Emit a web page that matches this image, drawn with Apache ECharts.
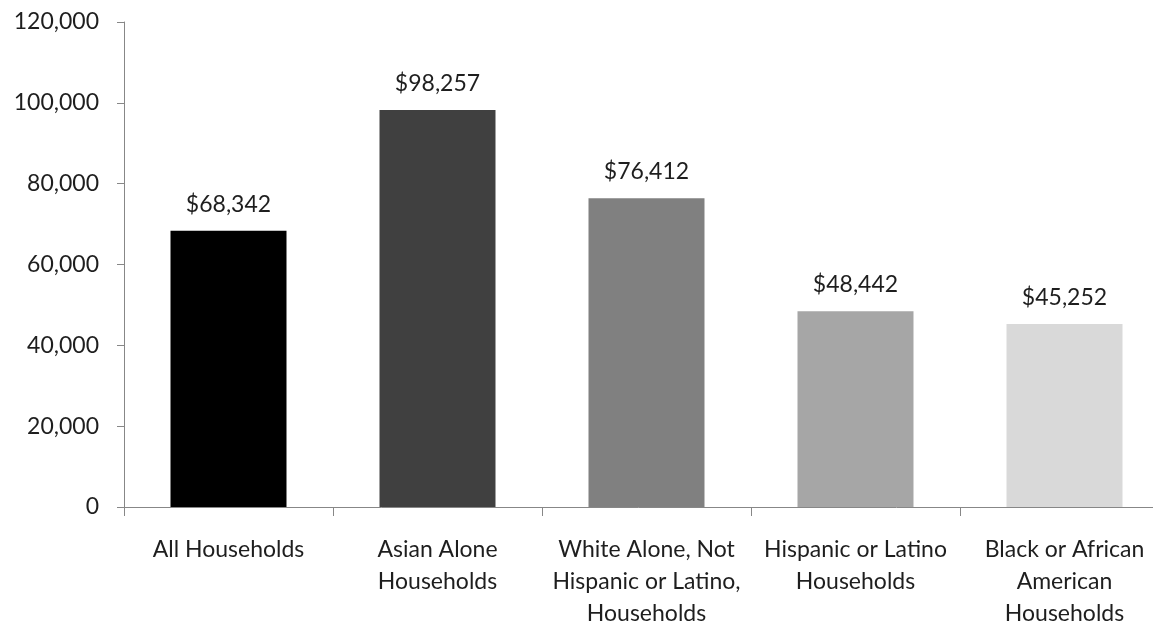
<!DOCTYPE html>
<html>
<head>
<meta charset="utf-8">
<title>Median Household Income by Race and Hispanic Origin</title>
<script src="https://cdn.jsdelivr.net/npm/echarts@6/dist/echarts.min.js"></script>
<style>
  html, body { margin: 0; padding: 0; background: #ffffff; }
  #chart { width: 1153px; height: 628px; }
</style>
</head>
<body>
<div id="chart"></div>
<script>
// Household groups (line breaks are where the axis labels wrap)
var categories = [
  'All Households',
  'Asian Alone\nHouseholds',
  'White Alone, Not\nHispanic or Latino,\nHouseholds',
  'Hispanic or Latino\nHouseholds',
  'Black or African\nAmerican\nHouseholds'
];

// Median household income, dollars
var incomes = [68342, 98257, 76412, 48442, 45252];

// Fill shade for each bar, darkest to lightest
var barColors = ['#000000', '#404040', '#808080', '#a6a6a6', '#d9d9d9'];

// Value axis range
var axisMin = 0;
var axisMax = 120000;
var axisStep = 20000;

var FONT = 'Lato';
var TEXT = '#1e1e1e';
var AXIS = '#878787';

function withCommas(v) {
  return String(v).replace(/\B(?=(\d{3})+(?!\d))/g, ',');
}

var chart = echarts.init(document.getElementById('chart'), null, { renderer: 'canvas' });

chart.setOption({
  animation: false,
  backgroundColor: '#ffffff',
  grid: {
    left: 124,
    right: -16,
    top: 22,
    bottom: 121,
    containLabel: false,
    outerBoundsMode: 'none'
  },
  xAxis: {
    type: 'category',
    data: categories,
    boundaryGap: true,
    axisLine: { show: true, lineStyle: { color: AXIS, width: 1 } },
    axisTick: { show: true, interval: 0, length: 9, lineStyle: { color: AXIS, width: 1 } },
    axisLabel: {
      interval: 0,
      margin: 27,
      color: TEXT,
      fontFamily: FONT,
      fontSize: 23,
      lineHeight: 31.7,
      align: 'center',
      verticalAlign: 'top'
    },
    splitLine: { show: false }
  },
  yAxis: {
    type: 'value',
    min: axisMin,
    max: axisMax,
    interval: axisStep,
    axisLine: { show: true, lineStyle: { color: AXIS, width: 1 } },
    axisTick: { show: true, length: 7, lineStyle: { color: AXIS, width: 1 } },
    axisLabel: {
      margin: 25,
      color: TEXT,
      fontFamily: FONT,
      fontSize: 23,
      formatter: function (v) { return withCommas(v); }
    },
    splitLine: { show: false }
  },
  series: [{
    type: 'bar',
    barWidth: '55.5%',
    data: incomes.map(function (v, i) {
      return { value: v, itemStyle: { color: barColors[i] } };
    }),
    label: {
      show: true,
      position: 'top',
      distance: 15,
      color: TEXT,
      fontFamily: FONT,
      fontSize: 23,
      formatter: function (p) { return '$' + withCommas(p.value); }
    }
  }]
});
</script>
</body>
</html>
